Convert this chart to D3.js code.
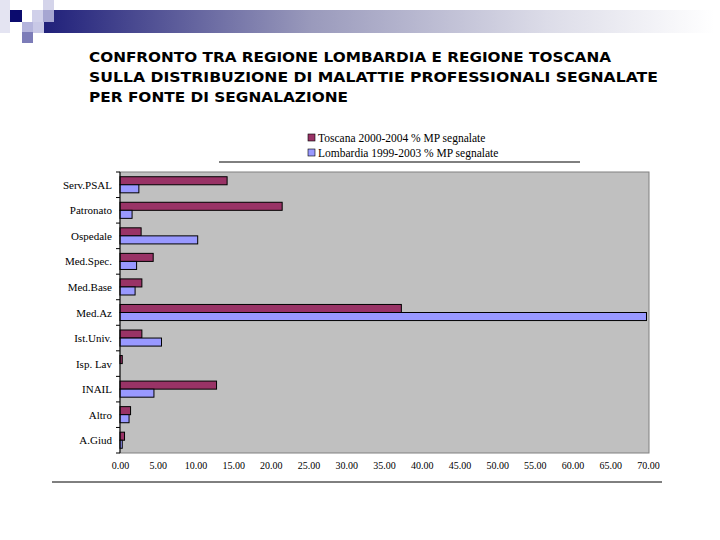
<!DOCTYPE html>
<html>
<head>
<meta charset="utf-8">
<script src="https://cdn.jsdelivr.net/npm/d3@7"></script>
<style>
  body { margin: 0; background: #fff; }
  svg { display: block; }
</style>
</head>
<body>
<svg id="chart" width="720" height="540"></svg>
<script>
const categories = ['Serv.PSAL', 'Patronato', 'Ospedale', 'Med.Spec.', 'Med.Base', 'Med.Az', 'Ist.Univ.', 'Isp. Lav', 'INAIL', 'Altro', 'A.Giud']
const toscana = [14.2, 21.5, 2.8, 4.4, 2.9, 37.3, 2.9, 0.3, 12.8, 1.4, 0.6]
const lombardia = [2.5, 1.6, 10.3, 2.2, 2.0, 69.8, 5.5, 0.0, 4.5, 1.2, 0.3]
const seriesNames = ['Toscana 2000-2004 % MP segnalate', 'Lombardia 1999-2003 % MP segnalate']
const xTicks = [0, 5, 10, 15, 20, 25, 30, 35, 40, 45, 50, 55, 60, 65, 70]
const titleLines = [
    'CONFRONTO TRA REGIONE LOMBARDIA E REGIONE TOSCANA',
    'SULLA DISTRIBUZIONE DI MALATTIE PROFESSIONALI SEGNALATE',
    'PER FONTE DI SEGNALAZIONE'
]

const COLORS = ['#993366', '#9999ff']
const plot = { left: 120, right: 649, top: 172, bottom: 453 }

const svg = d3.select('#chart')

// header decoration
const defs = svg.append('defs')
const grad = defs.append('linearGradient').attr('id', 'hdr')
grad.append('stop').attr('offset', '0%').attr('stop-color', '#20207a')
grad.append('stop').attr('offset', '40%').attr('stop-color', '#9a9abc')
grad.append('stop').attr('offset', '75%').attr('stop-color', '#dcdce8')
grad.append('stop').attr('offset', '100%').attr('stop-color', '#ffffff')
svg.append('rect').attr('x', 44).attr('y', 10).attr('width', 670).attr('height', 23).attr('fill', 'url(#hdr)')

const squares = [
    [0, 0, 10, 33, '#e4e4f2'],
    [43, 0, 11, 10, '#d4d4ea'],
    [10, 10, 12, 12, '#0b0b6e'],
    [32, 10, 11, 12, '#d0d0ea'],
    [43, 10, 11, 12, '#a6a6d2'],
    [22, 22, 11, 11, '#b4b4dc'],
    [33, 22, 11, 11, '#c8c8e6'],
    [22, 32, 11, 11, '#7c7cb8']
]
svg.selectAll('.sq')
    .data(squares)
    .join('rect')
    .attr('class', 'sq')
    .attr('x', d => d[0]).attr('y', d => d[1])
    .attr('width', d => d[2]).attr('height', d => d[3])
    .attr('fill', d => d[4])

// title
const titleWidths = [522, 569, 259]
svg.selectAll('.title')
    .data(titleLines)
    .join('text')
    .attr('class', 'title')
    .attr('x', 89)
    .attr('y', (d, i) => 62 + i * 20)
    .attr('textLength', (d, i) => titleWidths[i])
    .attr('lengthAdjust', 'spacingAndGlyphs')
    .style('font-family', 'DejaVu Sans, sans-serif')
    .style('font-weight', 'bold')
    .style('font-size', '14px')
    .text(d => d)

// legend
const legend = svg.append('g').attr('transform', 'translate(308,134)')
seriesNames.forEach((name, i) => {
    legend.append('rect')
        .attr('x', 0).attr('y', i * 15)
        .attr('width', 7).attr('height', 7)
        .attr('fill', COLORS[i]).attr('stroke', '#000').attr('stroke-width', 0.6)
    legend.append('text')
        .attr('x', 10).attr('y', i * 15 + 7.5)
        .style('font-family', 'Liberation Serif, serif')
        .style('font-size', '11.5px')
        .text(name)
})
svg.append('line').attr('x1', 219).attr('x2', 580).attr('y1', 162).attr('y2', 162)
    .attr('stroke', '#000').attr('stroke-width', 1)

// plot area
svg.append('rect')
    .attr('x', plot.left).attr('y', plot.top)
    .attr('width', plot.right - plot.left).attr('height', plot.bottom - plot.top)
    .attr('fill', '#c0c0c0').attr('stroke', '#808080').attr('stroke-width', 1)

const x = d3.scaleLinear().domain([0, 70]).range([plot.left, 648])
const y = d3.scaleBand().domain(categories).range([plot.top, plot.bottom]).paddingInner(0.37).paddingOuter(0.185)
const ySub = d3.scaleBand().domain([0, 1]).range([0, y.bandwidth()])

const rows = categories.map((c, i) => ({ cat: c, vals: [toscana[i], lombardia[i]] }))

svg.append('g')
    .selectAll('g')
    .data(rows)
    .join('g')
    .attr('transform', d => `translate(0,${y(d.cat)})`)
    .selectAll('rect')
    .data(d => d.vals)
    .join('rect')
    .attr('x', x(0))
    .attr('y', (d, i) => ySub(i))
    .attr('width', d => x(d) - x(0))
    .attr('height', ySub.bandwidth())
    .attr('fill', (d, i) => COLORS[i])
    .attr('stroke', '#000')
    .attr('stroke-width', 1)

// y axis
const yAxis = svg.append('g').attr('transform', `translate(${plot.left},0)`)
const step = (plot.bottom - plot.top) / categories.length
d3.range(categories.length + 1).forEach(i => {
    yAxis.append('line').attr('x1', -4).attr('x2', 0)
        .attr('y1', plot.top + i * step).attr('y2', plot.top + i * step)
        .attr('stroke', '#000')
})
yAxis.append('line').attr('x1', 0).attr('x2', 0).attr('y1', plot.top).attr('y2', plot.bottom).attr('stroke', '#000')
yAxis.selectAll('.ylab')
    .data(categories)
    .join('text')
    .attr('class', 'ylab')
    .attr('x', -8)
    .attr('y', d => y(d) + y.bandwidth() / 2 + 4)
    .attr('text-anchor', 'end')
    .style('font-family', 'Liberation Serif, serif')
    .style('font-size', '11px')
    .text(d => d)

// x axis labels
const xAxis = d3.axisBottom(x).tickValues(xTicks).tickFormat(d3.format('.2f')).tickSize(0).tickPadding(9)
const xg = svg.append('g').attr('transform', `translate(0,${plot.bottom})`).call(xAxis)
xg.select('.domain').remove()
xg.selectAll('text')
    .style('font-family', 'Liberation Serif, serif')
    .style('font-size', '10px')
    .attr('fill', '#000')

// bottom rule
svg.append('line').attr('x1', 52).attr('x2', 662).attr('y1', 482).attr('y2', 482)
    .attr('stroke', '#000').attr('stroke-width', 1)
</script>
</body>
</html>
